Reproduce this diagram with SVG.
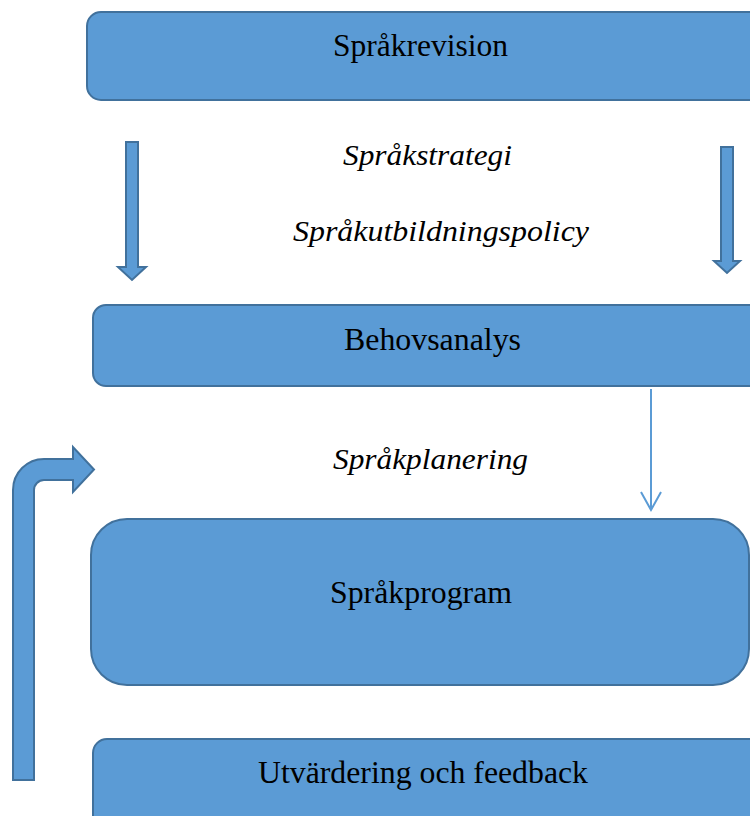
<svg xmlns="http://www.w3.org/2000/svg" width="750" height="816" viewBox="0 0 750 816">
<style>
.box{fill:#5B9BD5;stroke:#41719C;stroke-width:2}
.arr{fill:#5B9BD5;stroke:#41719C;stroke-width:2;stroke-linejoin:miter}
.t{font-family:"Liberation Serif","Times New Roman",serif;font-size:31px;fill:#000;text-anchor:middle}
.i{font-family:"Liberation Serif","Times New Roman",serif;font-size:30px;font-style:italic;fill:#000;text-anchor:middle}
.thin{fill:none;stroke:#5B9BD5;stroke-width:2}
</style>
<rect width="750" height="816" fill="#fff"/>
<g id="sprakrevision">
<rect class="box" x="87" y="12" width="676" height="88" rx="14"/>
<text class="t" x="420.5" y="56" textLength="175" lengthAdjust="spacingAndGlyphs">Språkrevision</text>
</g>
<g id="behovsanalys">
<rect class="box" x="93" y="305" width="670" height="81" rx="13"/>
<text class="t" x="432.5" y="350" textLength="177" lengthAdjust="spacingAndGlyphs">Behovsanalys</text>
</g>
<g id="sprakprogram">
<rect class="box" x="91" y="519" width="658" height="166" rx="36"/>
<text class="t" x="421" y="603" textLength="182" lengthAdjust="spacingAndGlyphs">Språkprogram</text>
</g>
<g id="utvardering">
<rect class="box" x="93" y="739" width="670" height="100" rx="14"/>
<text class="t" x="423" y="783" textLength="330" lengthAdjust="spacingAndGlyphs">Utvärdering och feedback</text>
</g>
<g id="labels">
<text class="i" x="427.5" y="165" textLength="169" lengthAdjust="spacingAndGlyphs">Språkstrategi</text>
<text class="i" x="441" y="241" textLength="296" lengthAdjust="spacingAndGlyphs">Språkutbildningspolicy</text>
<text class="i" x="430.5" y="469" textLength="195" lengthAdjust="spacingAndGlyphs">Språkplanering</text>
</g>
<g id="connectors">
<path class="arr" d="M126,142 H138 V267 H146 L132,280 L118,267 H126 Z"/>
<path class="arr" d="M721,147 H733 V261 H740 L727,273 L714,261 H721 Z"/>
<path class="thin" d="M651,389 V510 M641,492 L651,510 L661,492"/>
<path class="arr" d="M13,780 V490 A31,31 0 0 1 44,459 H73 V447 L94,469.5 L73,492 V480 H44 A10,10 0 0 0 34,490 V780 Z"/>
</g>
</svg>
